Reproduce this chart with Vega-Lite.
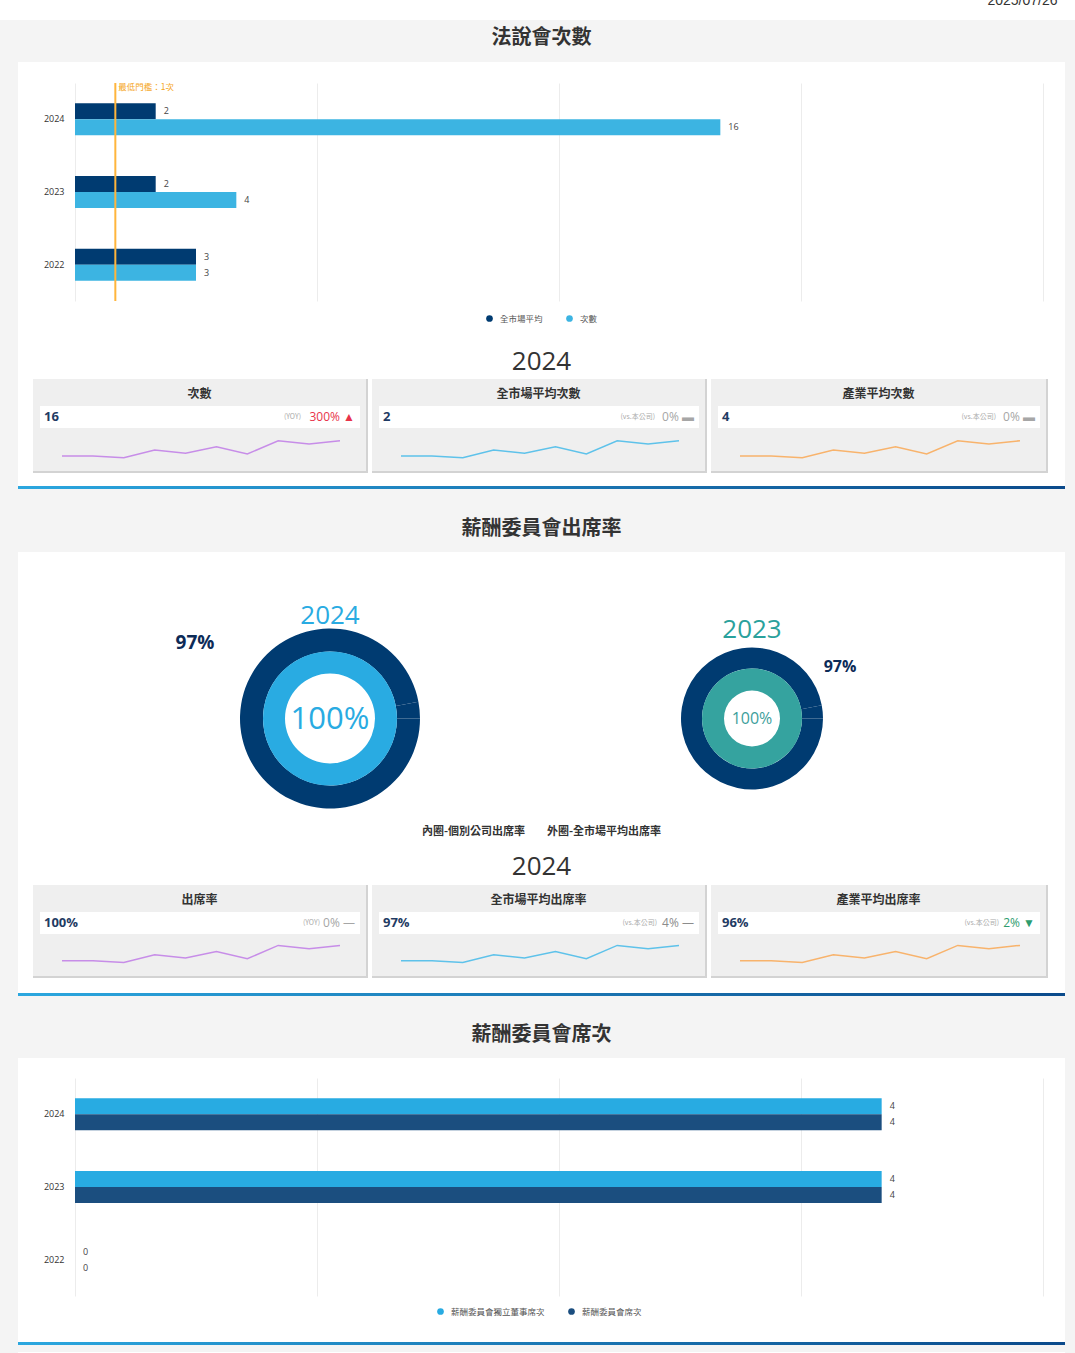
{
  "$schema": "https://vega.github.io/schema/vega-lite/v6.json",
  "background": "#ffffff",
  "padding": 0,
  "spacing": 0,
  "config": {"view": {"stroke": null}, "font": "Noto Sans CJK TC", "concat": {"spacing": 0}},
  "datasets": {
    "blank": [{}],
    "none": [],
    "spark": [
      {"yr": 2015, "v": 4}, {"yr": 2016, "v": 4}, {"yr": 2017, "v": 2.3}, {"yr": 2018, "v": 10},
      {"yr": 2019, "v": 6.7}, {"yr": 2020, "v": 13.3}, {"yr": 2021, "v": 6}, {"yr": 2022, "v": 19.3},
      {"yr": 2023, "v": 16}, {"yr": 2024, "v": 19.3}
    ]
  },
  "hconcat": [
    {
      "spacing": 0,
      "vconcat": [
        {"width": 18, "height": 20, "data": {"name": "none"}, "mark": "text"},
        {"width": 18, "height": 1333, "view": {"fill": "#f4f4f4"}, "data": {"name": "none"}, "mark": "text"}
      ]
    },
    {
      "spacing": 0,
      "resolve": {"scale": {"color": "independent", "yOffset": "independent"}, "legend": {"color": "independent"}},
      "vconcat": [
        {
          "width": 1047, "height": 20,
          "data": {"values": [{"d": "2025/07/26"}]},
          "mark": {"type": "text", "align": "right", "baseline": "alphabetic", "dx": 516, "dy": -5, "fontSize": 14, "color": "#333333", "font": "Liberation Sans", "clip": true},
          "encoding": {"text": {"field": "d"}}
        },
        {
          "width": 1047, "height": 42, "view": {"fill": "#f4f4f4"},
          "data": {"values": [{"t": "法說會次數"}]},
          "mark": {"type": "text", "fontSize": 20, "fontWeight": "bold", "color": "#333333", "letterSpacing": 2, "dy": -3},
          "encoding": {"text": {"field": "t"}}
        },
        {"width": 1047, "height": 20, "data": {"name": "none"}, "mark": "text"},
        {
          "width": 1047, "height": 218,
          "data": {"values": [
            {"year": "2024", "series": "全市場平均", "v": 2},
            {"year": "2024", "series": "次數", "v": 16},
            {"year": "2023", "series": "全市場平均", "v": 2},
            {"year": "2023", "series": "次數", "v": 4},
            {"year": "2022", "series": "全市場平均", "v": 3},
            {"year": "2022", "series": "次數", "v": 3}
          ]},
          "layer": [
            {
              "mark": {"type": "bar"},
              "encoding": {
                "y": {"field": "year", "type": "nominal", "scale": {"domain": ["2024", "2023", "2022"], "paddingInner": 0.56, "paddingOuter": 0.28},
                      "axis": {"title": null, "offset": -57, "domain": false, "ticks": false, "labelPadding": 11, "labelFontSize": 9, "labelColor": "#333333", "labelFont": "Open Sans"}},
                "yOffset": {"field": "series", "type": "nominal", "scale": {"domain": ["全市場平均", "次數"]}},
                "x": {"field": "v", "type": "quantitative", "scale": {"domain": [0, 24], "range": [57, 1025], "nice": false},
                      "axis": {"title": null, "labels": false, "ticks": false, "domain": false, "values": [0, 6, 12, 18, 24], "grid": true, "gridColor": "#ececec"}},
                "color": {"field": "series", "type": "nominal", "scale": {"domain": ["全市場平均", "次數"], "range": ["#003b71", "#3cb4e2"]},
                          "legend": {"orient": "none", "legendX": 467, "legendY": 231, "direction": "horizontal", "title": null, "symbolType": "circle", "symbolSize": 45, "labelFontSize": 8.5, "labelColor": "#555555", "labelOffset": 6, "columnPadding": 22, "padding": 0}}
              }
            },
            {
              "mark": {"type": "text", "align": "left", "dx": 8, "fontSize": 9, "color": "#444444", "font": "Open Sans"},
              "encoding": {
                "y": {"field": "year", "type": "nominal"},
                "yOffset": {"field": "series", "type": "nominal"},
                "x": {"field": "v", "type": "quantitative"},
                "text": {"field": "v"}
              }
            },
            {
              "data": {"values": [{"t": 1, "label": "最低門檻：1次"}]},
              "mark": {"type": "rule", "color": "#ffb53c", "strokeWidth": 2},
              "encoding": {"x": {"field": "t", "type": "quantitative"}}
            },
            {
              "data": {"values": [{"t": 1, "label": "最低門檻：1次"}]},
              "mark": {"type": "text", "align": "left", "dx": 3, "dy": -32, "fontSize": 8.5, "color": "#f5a623"},
              "encoding": {"x": {"field": "t", "type": "quantitative"}, "y": {"datum": "2024", "type": "nominal"}, "text": {"field": "label"}}
            }
          ]
        },
        {
          "width": 1047, "height": 56,
          "data": {"values": [{"t": "2024"}]},
          "mark": {"type": "text", "fontSize": 26, "color": "#333333", "dy": 10.5, "font": "Open Sans"},
          "encoding": {"text": {"field": "t"}}
        },
        {
          "spacing": 4,
          "hconcat": [
            {"width": 11, "height": 94, "data": {"name": "none"}, "mark": "text"},
            {
              "spacing": 0,
              "hconcat": [
                {
                  "spacing": 0,
                  "vconcat": [
                    {"width": 333, "height": 27, "view": {"fill": "#efefef"}, "data": {"values": [{"t": "次數"}]},
                     "mark": {"type": "text", "fontSize": 12, "fontWeight": "bold", "color": "#333333", "letterSpacing": 1.5, "dy": 1.5}, "encoding": {"text": {"field": "t"}}},
                    {"spacing": 0, "hconcat": [
                      {"width": 7, "height": 22, "view": {"fill": "#efefef"}, "data": {"name": "none"}, "mark": "text"},
                      {"width": 320, "height": 22, "view": {"fill": "#ffffff"}, "data": {"values": [{"value": "16", "cmp": "(YOY)", "chg": "300% ▲"}]},
                       "layer": [
                         {"mark": {"type": "text", "align": "left", "dx": -156, "fontSize": 13, "fontWeight": "bold", "color": "#1f3b63", "font": "Open Sans"}, "encoding": {"text": {"field": "value"}}},
                         {"mark": {"type": "text", "align": "right", "dx": 155, "fontSize": 12, "color": "#e8334a", "font": "Open Sans"}, "encoding": {"text": {"field": "chg"}}},
                         {"mark": {"type": "text", "align": "right", "dx": 101, "fontSize": 7, "color": "#aaaaaa"}, "encoding": {"text": {"field": "cmp"}}}
                       ]},
                      {"width": 6, "height": 22, "view": {"fill": "#efefef"}, "data": {"name": "none"}, "mark": "text"}
                    ]},
                    {"width": 333, "height": 43, "view": {"fill": "#efefef"}, "data": {"name": "spark"},
                     "mark": {"type": "line", "color": "#c78de8", "strokeWidth": 1.5},
                     "encoding": {"x": {"field": "yr", "type": "quantitative", "scale": {"domain": [2015, 2024], "range": [29, 307]}, "axis": null},
                                  "y": {"field": "v", "type": "quantitative", "scale": {"domain": [0, 20], "range": [32, 12]}, "axis": null}}},
                    {"width": 333, "height": 2, "view": {"fill": "#d3d3d3"}, "data": {"name": "none"}, "mark": "text"}
                  ]
                },
                {"width": 2, "height": 94, "view": {"fill": "#d3d3d3"}, "data": {"name": "none"}, "mark": "text"}
              ]
            },
            {
              "spacing": 0,
              "hconcat": [
                {
                  "spacing": 0,
                  "vconcat": [
                    {"width": 333, "height": 27, "view": {"fill": "#efefef"}, "data": {"values": [{"t": "全市場平均次數"}]},
                     "mark": {"type": "text", "fontSize": 12, "fontWeight": "bold", "color": "#333333", "letterSpacing": 1.5, "dy": 1.5}, "encoding": {"text": {"field": "t"}}},
                    {"spacing": 0, "hconcat": [
                      {"width": 7, "height": 22, "view": {"fill": "#efefef"}, "data": {"name": "none"}, "mark": "text"},
                      {"width": 320, "height": 22, "view": {"fill": "#ffffff"}, "data": {"values": [{"value": "2", "cmp": "(vs.本公司)", "chg": "0% ▬"}]},
                       "layer": [
                         {"mark": {"type": "text", "align": "left", "dx": -156, "fontSize": 13, "fontWeight": "bold", "color": "#1f3b63", "font": "Open Sans"}, "encoding": {"text": {"field": "value"}}},
                         {"mark": {"type": "text", "align": "right", "dx": 155, "fontSize": 12, "color": "#a6a6a6", "font": "Open Sans"}, "encoding": {"text": {"field": "chg"}}},
                         {"mark": {"type": "text", "align": "right", "dx": 116, "fontSize": 7, "color": "#aaaaaa"}, "encoding": {"text": {"field": "cmp"}}}
                       ]},
                      {"width": 6, "height": 22, "view": {"fill": "#efefef"}, "data": {"name": "none"}, "mark": "text"}
                    ]},
                    {"width": 333, "height": 43, "view": {"fill": "#efefef"}, "data": {"name": "spark"},
                     "mark": {"type": "line", "color": "#5ec2ea", "strokeWidth": 1.5},
                     "encoding": {"x": {"field": "yr", "type": "quantitative", "scale": {"domain": [2015, 2024], "range": [29, 307]}, "axis": null},
                                  "y": {"field": "v", "type": "quantitative", "scale": {"domain": [0, 20], "range": [32, 12]}, "axis": null}}},
                    {"width": 333, "height": 2, "view": {"fill": "#d3d3d3"}, "data": {"name": "none"}, "mark": "text"}
                  ]
                },
                {"width": 2, "height": 94, "view": {"fill": "#d3d3d3"}, "data": {"name": "none"}, "mark": "text"}
              ]
            },
            {
              "spacing": 0,
              "hconcat": [
                {
                  "spacing": 0,
                  "vconcat": [
                    {"width": 335, "height": 27, "view": {"fill": "#efefef"}, "data": {"values": [{"t": "產業平均次數"}]},
                     "mark": {"type": "text", "fontSize": 12, "fontWeight": "bold", "color": "#333333", "letterSpacing": 1.5, "dy": 1.5}, "encoding": {"text": {"field": "t"}}},
                    {"spacing": 0, "hconcat": [
                      {"width": 7, "height": 22, "view": {"fill": "#efefef"}, "data": {"name": "none"}, "mark": "text"},
                      {"width": 322, "height": 22, "view": {"fill": "#ffffff"}, "data": {"values": [{"value": "4", "cmp": "(vs.本公司)", "chg": "0% ▬"}]},
                       "layer": [
                         {"mark": {"type": "text", "align": "left", "dx": -157, "fontSize": 13, "fontWeight": "bold", "color": "#1f3b63", "font": "Open Sans"}, "encoding": {"text": {"field": "value"}}},
                         {"mark": {"type": "text", "align": "right", "dx": 156, "fontSize": 12, "color": "#a6a6a6", "font": "Open Sans"}, "encoding": {"text": {"field": "chg"}}},
                         {"mark": {"type": "text", "align": "right", "dx": 117, "fontSize": 7, "color": "#aaaaaa"}, "encoding": {"text": {"field": "cmp"}}}
                       ]},
                      {"width": 6, "height": 22, "view": {"fill": "#efefef"}, "data": {"name": "none"}, "mark": "text"}
                    ]},
                    {"width": 335, "height": 43, "view": {"fill": "#efefef"}, "data": {"name": "spark"},
                     "mark": {"type": "line", "color": "#f8b36c", "strokeWidth": 1.5},
                     "encoding": {"x": {"field": "yr", "type": "quantitative", "scale": {"domain": [2015, 2024], "range": [29, 309]}, "axis": null},
                                  "y": {"field": "v", "type": "quantitative", "scale": {"domain": [0, 20], "range": [32, 12]}, "axis": null}}},
                    {"width": 335, "height": 2, "view": {"fill": "#d3d3d3"}, "data": {"name": "none"}, "mark": "text"}
                  ]
                },
                {"width": 2, "height": 94, "view": {"fill": "#d3d3d3"}, "data": {"name": "none"}, "mark": "text"}
              ]
            }
          ]
        },
        {"width": 1047, "height": 13, "data": {"name": "none"}, "mark": "text"},
        {
          "width": 1047, "height": 3, "data": {"name": "blank"},
          "mark": {"type": "rect", "color": {"gradient": "linear", "x1": 0, "x2": 1, "y1": 0, "y2": 0, "stops": [{"offset": 0, "color": "#2ba7df"}, {"offset": 1, "color": "#0b4a8b"}]}},
          "encoding": {}
        },
        {
          "width": 1047, "height": 63, "view": {"fill": "#f4f4f4"},
          "data": {"values": [{"t": "薪酬委員會出席率"}]},
          "mark": {"type": "text", "fontSize": 20, "fontWeight": "bold", "color": "#333333", "letterSpacing": 2, "dy": 8.5},
          "encoding": {"text": {"field": "t"}}
        },
        {
          "width": 1047, "height": 333,
          "layer": [
            {
              "data": {"values": [{"year": "2024", "part": "全市場平均出席率", "v": 97}, {"year": "2024", "part": "其餘", "v": 3}]},
              "mark": {"type": "arc", "outerRadius": 90, "innerRadius": 67, "color": "#003b71"},
              "encoding": {
                "x": {"field": "year", "type": "nominal", "scale": {"domain": ["2024", "2023"], "range": [312, 734], "padding": 0}, "axis": null},
                "theta": {"field": "v", "type": "quantitative", "stack": true, "scale": {"range": [1.5708, 7.854]}}
              }
            },
            {
              "data": {"values": [{"year": "2024", "part": "個別公司出席率", "v": 100}]},
              "mark": {"type": "arc", "outerRadius": 67, "innerRadius": 45, "color": "#29abe2"},
              "encoding": {"x": {"field": "year", "type": "nominal"}, "theta": {"field": "v", "type": "quantitative", "stack": true}}
            },
            {
              "data": {"values": [{"year": "2023", "part": "全市場平均出席率", "v": 97}, {"year": "2023", "part": "其餘", "v": 3}]},
              "mark": {"type": "arc", "outerRadius": 71, "innerRadius": 50, "color": "#003b71"},
              "encoding": {"x": {"field": "year", "type": "nominal"}, "theta": {"field": "v", "type": "quantitative", "stack": true}}
            },
            {
              "data": {"values": [{"year": "2023", "part": "個別公司出席率", "v": 100}]},
              "mark": {"type": "arc", "outerRadius": 50, "innerRadius": 28, "color": "#35a39f"},
              "encoding": {"x": {"field": "year", "type": "nominal"}, "theta": {"field": "v", "type": "quantitative", "stack": true}}
            },
            {
              "data": {"values": [{"year": "2024", "rate": 0.97}]},
              "mark": {"type": "text", "fontSize": 19, "fontWeight": "bold", "color": "#0d2b57", "dx": -135, "dy": -75.5, "font": "Open Sans"},
              "encoding": {"x": {"field": "year", "type": "nominal"}, "text": {"field": "rate", "format": ".0%"}}
            },
            {
              "data": {"values": [{"year": "2023", "rate": 0.97}]},
              "mark": {"type": "text", "fontSize": 16, "fontWeight": "bold", "color": "#0d2b57", "dx": 88, "dy": -51.5, "font": "Open Sans"},
              "encoding": {"x": {"field": "year", "type": "nominal"}, "text": {"field": "rate", "format": ".0%"}}
            },
            {
              "data": {"values": [{"year": "2024", "rate": 1}]},
              "mark": {"type": "text", "fontSize": 31, "color": "#29abe2", "dy": 1, "font": "Open Sans"},
              "encoding": {"x": {"field": "year", "type": "nominal"}, "text": {"field": "rate", "format": ".0%"}}
            },
            {
              "data": {"values": [{"year": "2023", "rate": 1}]},
              "mark": {"type": "text", "fontSize": 16, "color": "#3c9e9b", "dy": 0, "font": "Open Sans"},
              "encoding": {"x": {"field": "year", "type": "nominal"}, "text": {"field": "rate", "format": ".0%"}}
            },
            {
              "data": {"values": [{"year": "2024"}]},
              "mark": {"type": "text", "fontSize": 26, "color": "#29abe2", "letterSpacing": 4, "dy": -102.5, "font": "Open Sans"},
              "encoding": {"x": {"field": "year", "type": "nominal"}, "text": {"field": "year"}}
            },
            {
              "data": {"values": [{"year": "2023"}]},
              "mark": {"type": "text", "fontSize": 26, "color": "#2aa19c", "letterSpacing": 4, "dy": -88.5, "font": "Open Sans"},
              "encoding": {"x": {"field": "year", "type": "nominal"}, "text": {"field": "year"}}
            },
            {
              "data": {"values": [{"t": "內圈-個別公司出席率　　外圈-全市場平均出席率"}]},
              "mark": {"type": "text", "fontSize": 11, "fontWeight": "bold", "color": "#333333", "letterSpacing": 1.2, "dy": 113.5},
              "encoding": {"text": {"field": "t"}}
            },
            {
              "data": {"values": [{"t": "2024"}]},
              "mark": {"type": "text", "fontSize": 26, "color": "#333333", "dy": 148.5, "font": "Open Sans"},
              "encoding": {"text": {"field": "t"}}
            }
          ]
        },
        {
          "spacing": 4,
          "hconcat": [
            {"width": 11, "height": 93, "data": {"name": "none"}, "mark": "text"},
            {
              "spacing": 0,
              "hconcat": [
                {
                  "spacing": 0,
                  "vconcat": [
                    {"width": 333, "height": 27, "view": {"fill": "#efefef"}, "data": {"values": [{"t": "出席率"}]},
                     "mark": {"type": "text", "fontSize": 12, "fontWeight": "bold", "color": "#333333", "letterSpacing": 1.5, "dy": 1.5}, "encoding": {"text": {"field": "t"}}},
                    {"spacing": 0, "hconcat": [
                      {"width": 7, "height": 22, "view": {"fill": "#efefef"}, "data": {"name": "none"}, "mark": "text"},
                      {"width": 320, "height": 22, "view": {"fill": "#ffffff"}, "data": {"values": [{"value": "100%", "cmp": "(YOY)", "chg": "0% —"}]},
                       "layer": [
                         {"mark": {"type": "text", "align": "left", "dx": -156, "fontSize": 13, "fontWeight": "bold", "color": "#1f3b63", "font": "Open Sans"}, "encoding": {"text": {"field": "value"}}},
                         {"mark": {"type": "text", "align": "right", "dx": 155, "fontSize": 12, "color": "#a6a6a6", "font": "Open Sans"}, "encoding": {"text": {"field": "chg"}}},
                         {"mark": {"type": "text", "align": "right", "dx": 120, "fontSize": 7, "color": "#aaaaaa"}, "encoding": {"text": {"field": "cmp"}}}
                       ]},
                      {"width": 6, "height": 22, "view": {"fill": "#efefef"}, "data": {"name": "none"}, "mark": "text"}
                    ]},
                    {"width": 333, "height": 42, "view": {"fill": "#efefef"}, "data": {"name": "spark"},
                     "mark": {"type": "line", "color": "#c78de8", "strokeWidth": 1.5},
                     "encoding": {"x": {"field": "yr", "type": "quantitative", "scale": {"domain": [2015, 2024], "range": [29, 307]}, "axis": null},
                                  "y": {"field": "v", "type": "quantitative", "scale": {"domain": [0, 20], "range": [30.7, 10.7]}, "axis": null}}},
                    {"width": 333, "height": 2, "view": {"fill": "#d3d3d3"}, "data": {"name": "none"}, "mark": "text"}
                  ]
                },
                {"width": 2, "height": 93, "view": {"fill": "#d3d3d3"}, "data": {"name": "none"}, "mark": "text"}
              ]
            },
            {
              "spacing": 0,
              "hconcat": [
                {
                  "spacing": 0,
                  "vconcat": [
                    {"width": 333, "height": 27, "view": {"fill": "#efefef"}, "data": {"values": [{"t": "全市場平均出席率"}]},
                     "mark": {"type": "text", "fontSize": 12, "fontWeight": "bold", "color": "#333333", "letterSpacing": 1.5, "dy": 1.5}, "encoding": {"text": {"field": "t"}}},
                    {"spacing": 0, "hconcat": [
                      {"width": 7, "height": 22, "view": {"fill": "#efefef"}, "data": {"name": "none"}, "mark": "text"},
                      {"width": 320, "height": 22, "view": {"fill": "#ffffff"}, "data": {"values": [{"value": "97%", "cmp": "(vs.本公司)", "chg": "4% —"}]},
                       "layer": [
                         {"mark": {"type": "text", "align": "left", "dx": -156, "fontSize": 13, "fontWeight": "bold", "color": "#1f3b63", "font": "Open Sans"}, "encoding": {"text": {"field": "value"}}},
                         {"mark": {"type": "text", "align": "right", "dx": 155, "fontSize": 12, "color": "#8c8c8c", "font": "Open Sans"}, "encoding": {"text": {"field": "chg"}}},
                         {"mark": {"type": "text", "align": "right", "dx": 118, "fontSize": 7, "color": "#aaaaaa"}, "encoding": {"text": {"field": "cmp"}}}
                       ]},
                      {"width": 6, "height": 22, "view": {"fill": "#efefef"}, "data": {"name": "none"}, "mark": "text"}
                    ]},
                    {"width": 333, "height": 42, "view": {"fill": "#efefef"}, "data": {"name": "spark"},
                     "mark": {"type": "line", "color": "#5ec2ea", "strokeWidth": 1.5},
                     "encoding": {"x": {"field": "yr", "type": "quantitative", "scale": {"domain": [2015, 2024], "range": [29, 307]}, "axis": null},
                                  "y": {"field": "v", "type": "quantitative", "scale": {"domain": [0, 20], "range": [30.7, 10.7]}, "axis": null}}},
                    {"width": 333, "height": 2, "view": {"fill": "#d3d3d3"}, "data": {"name": "none"}, "mark": "text"}
                  ]
                },
                {"width": 2, "height": 93, "view": {"fill": "#d3d3d3"}, "data": {"name": "none"}, "mark": "text"}
              ]
            },
            {
              "spacing": 0,
              "hconcat": [
                {
                  "spacing": 0,
                  "vconcat": [
                    {"width": 335, "height": 27, "view": {"fill": "#efefef"}, "data": {"values": [{"t": "產業平均出席率"}]},
                     "mark": {"type": "text", "fontSize": 12, "fontWeight": "bold", "color": "#333333", "letterSpacing": 1.5, "dy": 1.5}, "encoding": {"text": {"field": "t"}}},
                    {"spacing": 0, "hconcat": [
                      {"width": 7, "height": 22, "view": {"fill": "#efefef"}, "data": {"name": "none"}, "mark": "text"},
                      {"width": 322, "height": 22, "view": {"fill": "#ffffff"}, "data": {"values": [{"value": "96%", "cmp": "(vs.本公司)", "chg": "2% ▼"}]},
                       "layer": [
                         {"mark": {"type": "text", "align": "left", "dx": -157, "fontSize": 13, "fontWeight": "bold", "color": "#1f3b63", "font": "Open Sans"}, "encoding": {"text": {"field": "value"}}},
                         {"mark": {"type": "text", "align": "right", "dx": 156, "fontSize": 12, "color": "#2e9c6e", "font": "Open Sans"}, "encoding": {"text": {"field": "chg"}}},
                         {"mark": {"type": "text", "align": "right", "dx": 120, "fontSize": 7, "color": "#aaaaaa"}, "encoding": {"text": {"field": "cmp"}}}
                       ]},
                      {"width": 6, "height": 22, "view": {"fill": "#efefef"}, "data": {"name": "none"}, "mark": "text"}
                    ]},
                    {"width": 335, "height": 42, "view": {"fill": "#efefef"}, "data": {"name": "spark"},
                     "mark": {"type": "line", "color": "#f8b36c", "strokeWidth": 1.5},
                     "encoding": {"x": {"field": "yr", "type": "quantitative", "scale": {"domain": [2015, 2024], "range": [29, 309]}, "axis": null},
                                  "y": {"field": "v", "type": "quantitative", "scale": {"domain": [0, 20], "range": [30.7, 10.7]}, "axis": null}}},
                    {"width": 335, "height": 2, "view": {"fill": "#d3d3d3"}, "data": {"name": "none"}, "mark": "text"}
                  ]
                },
                {"width": 2, "height": 93, "view": {"fill": "#d3d3d3"}, "data": {"name": "none"}, "mark": "text"}
              ]
            }
          ]
        },
        {"width": 1047, "height": 15, "data": {"name": "none"}, "mark": "text"},
        {
          "width": 1047, "height": 3, "data": {"name": "blank"},
          "mark": {"type": "rect", "color": {"gradient": "linear", "x1": 0, "x2": 1, "y1": 0, "y2": 0, "stops": [{"offset": 0, "color": "#2ba7df"}, {"offset": 1, "color": "#0b4a8b"}]}},
          "encoding": {}
        },
        {
          "width": 1047, "height": 62, "view": {"fill": "#f4f4f4"},
          "data": {"values": [{"t": "薪酬委員會席次"}]},
          "mark": {"type": "text", "fontSize": 20, "fontWeight": "bold", "color": "#333333", "letterSpacing": 2, "dy": 8},
          "encoding": {"text": {"field": "t"}}
        },
        {"width": 1047, "height": 20, "data": {"name": "none"}, "mark": "text"},
        {
          "width": 1047, "height": 218,
          "data": {"values": [
            {"year": "2024", "series": "薪酬委員會獨立董事席次", "v": 4},
            {"year": "2024", "series": "薪酬委員會席次", "v": 4},
            {"year": "2023", "series": "薪酬委員會獨立董事席次", "v": 4},
            {"year": "2023", "series": "薪酬委員會席次", "v": 4},
            {"year": "2022", "series": "薪酬委員會獨立董事席次", "v": 0},
            {"year": "2022", "series": "薪酬委員會席次", "v": 0}
          ]},
          "layer": [
            {
              "mark": {"type": "bar"},
              "encoding": {
                "y": {"field": "year", "type": "nominal", "scale": {"domain": ["2024", "2023", "2022"], "paddingInner": 0.56, "paddingOuter": 0.28},
                      "axis": {"title": null, "offset": -57, "domain": false, "ticks": false, "labelPadding": 11, "labelFontSize": 9, "labelColor": "#333333", "labelFont": "Open Sans"}},
                "yOffset": {"field": "series", "type": "nominal", "scale": {"domain": ["薪酬委員會獨立董事席次", "薪酬委員會席次"]}},
                "x": {"field": "v", "type": "quantitative", "scale": {"domain": [0, 4.8], "range": [57, 1025], "nice": false},
                      "axis": {"title": null, "labels": false, "ticks": false, "domain": false, "values": [0, 1.2, 2.4, 3.6, 4.8], "grid": true, "gridColor": "#ececec"}},
                "color": {"field": "series", "type": "nominal", "scale": {"domain": ["薪酬委員會獨立董事席次", "薪酬委員會席次"], "range": ["#28abe2", "#1b4e7f"]},
                          "legend": {"orient": "none", "legendX": 418, "legendY": 229, "direction": "horizontal", "title": null, "symbolType": "circle", "symbolSize": 45, "labelFontSize": 8.5, "labelColor": "#555555", "labelOffset": 6, "columnPadding": 22, "padding": 0}}
              }
            },
            {
              "mark": {"type": "text", "align": "left", "dx": 8, "fontSize": 9, "color": "#444444", "font": "Open Sans"},
              "encoding": {
                "y": {"field": "year", "type": "nominal"},
                "yOffset": {"field": "series", "type": "nominal"},
                "x": {"field": "v", "type": "quantitative"},
                "text": {"field": "v"}
              }
            }
          ]
        },
        {"width": 1047, "height": 26, "data": {"name": "none"}, "mark": "text"},
        {
          "width": 1047, "height": 3, "data": {"name": "blank"},
          "mark": {"type": "rect", "color": {"gradient": "linear", "x1": 0, "x2": 1, "y1": 0, "y2": 0, "stops": [{"offset": 0, "color": "#2ba7df"}, {"offset": 1, "color": "#0b4a8b"}]}},
          "encoding": {}
        },
        {"width": 1047, "height": 7, "view": {"fill": "#f4f4f4"}, "data": {"name": "none"}, "mark": "text"}
      ]
    },
    {
      "spacing": 0,
      "vconcat": [
        {"width": 10, "height": 20, "data": {"name": "none"}, "mark": "text"},
        {"width": 10, "height": 1333, "view": {"fill": "#f4f4f4"}, "data": {"name": "none"}, "mark": "text"}
      ]
    }
  ]
}
